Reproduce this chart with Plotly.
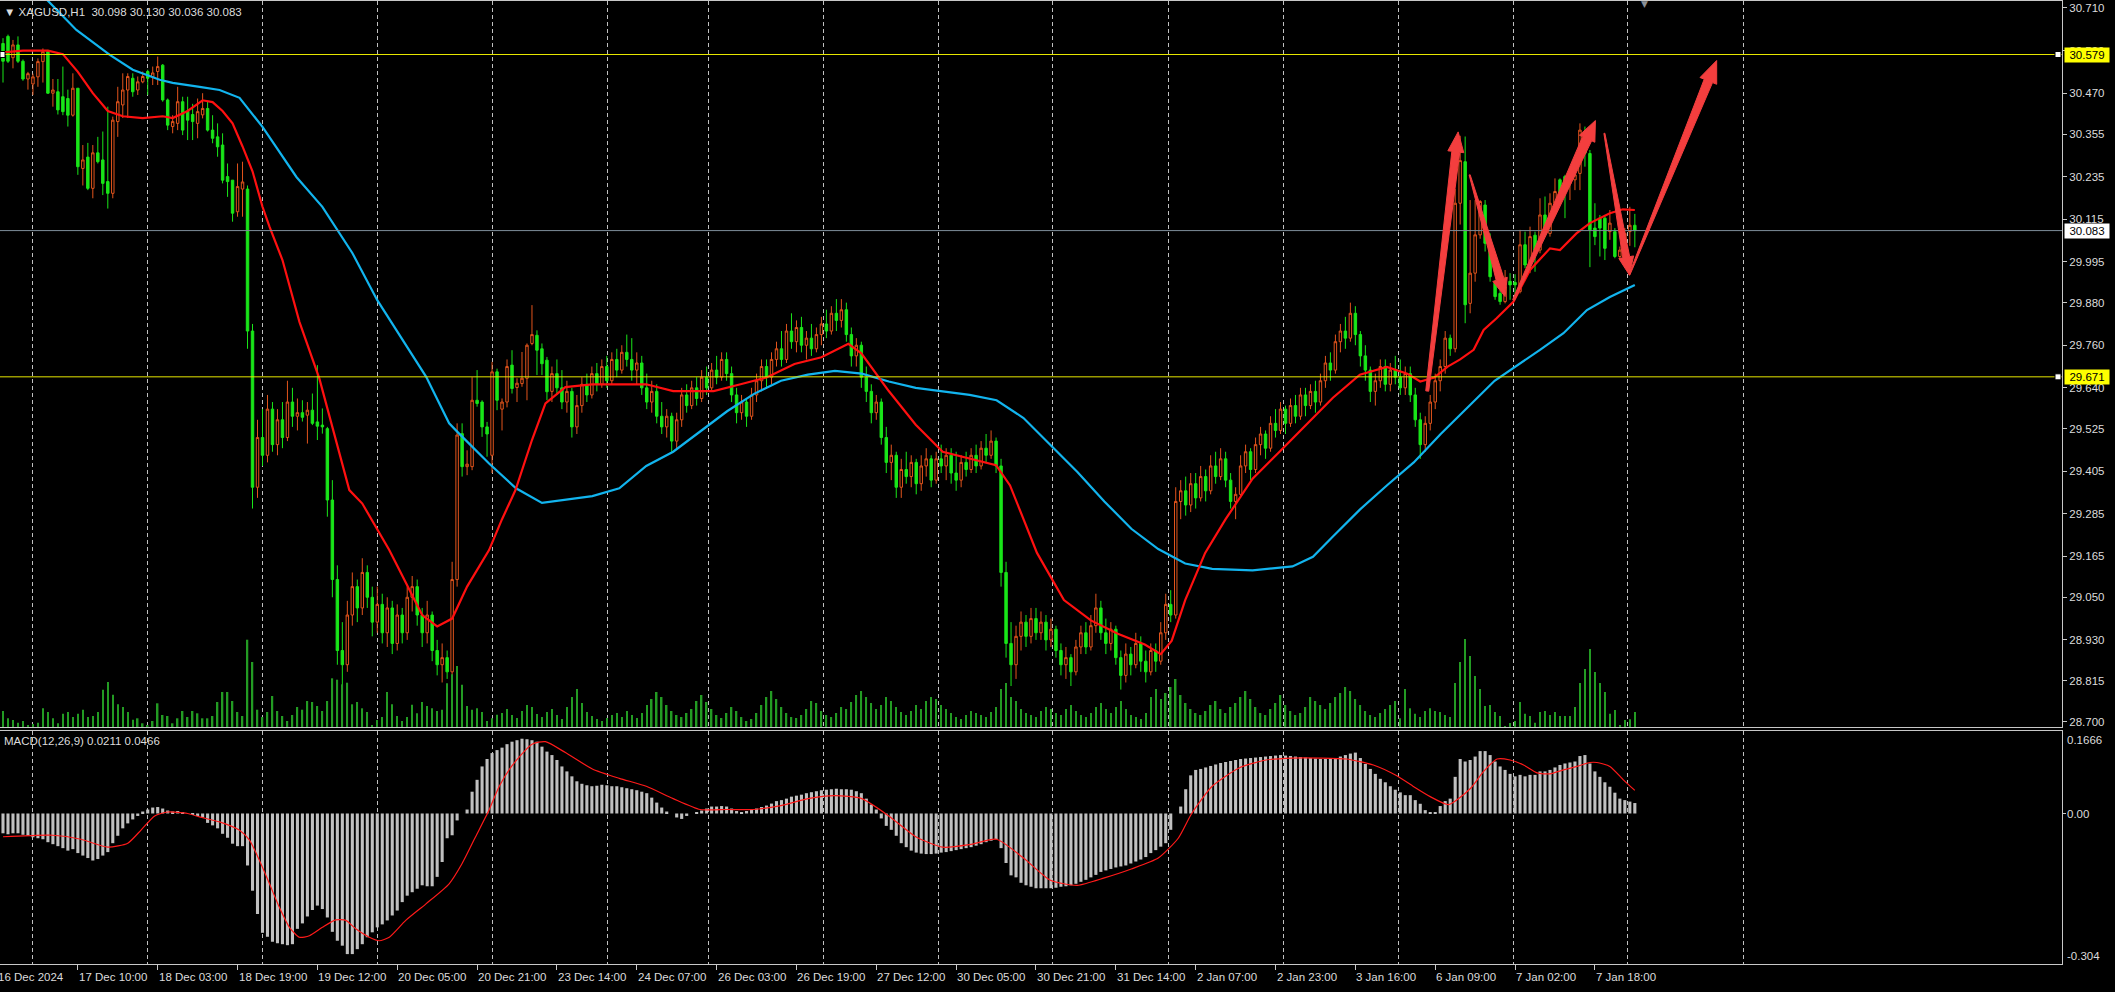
import math
import plotly.graph_objects as go

# ------------------------------------------------------------------ data
# XAGUSD H1 candles, bar index 0..327 (oldest -> newest)
opens = [
    30.61, 30.63, 30.57, 30.606, 30.56, 30.51, 30.496, 30.516, 30.559, 30.587,
    30.47, 30.474, 30.46, 30.455, 30.408, 30.484, 30.258, 30.29, 30.202, 30.302,
    30.282, 30.221, 30.188, 30.39, 30.437, 30.479, 30.512, 30.479, 30.502, 30.531,
    30.516, 30.531, 30.549, 30.451, 30.376, 30.385, 30.446, 30.42, 30.41, 30.385,
    30.409, 30.427, 30.366, 30.347, 30.324, 30.235, 30.225, 30.136, 30.20, 30.20,
    29.80, 29.36, 29.50, 29.45, 29.58, 29.48, 29.55, 29.50, 29.60, 29.56,
    29.57, 29.563, 29.577, 29.544, 29.535, 29.525, 29.324, 29.10, 28.90, 28.86,
    29.00, 29.08, 29.02, 29.12, 29.05, 28.98, 29.03, 28.95, 29.02, 28.92,
    29.00, 28.95, 29.05, 29.08, 29.00, 28.95, 29.00, 28.90, 28.86, 28.88,
    28.84, 29.10, 29.511, 29.418, 29.418, 29.605, 29.60, 29.53, 29.45, 29.685,
    29.58, 29.60, 29.704, 29.641, 29.652, 29.667, 29.765, 29.788, 29.75, 29.718,
    29.63, 29.68, 29.64, 29.60, 29.63, 29.53, 29.59, 29.65, 29.62, 29.68,
    29.65, 29.70, 29.66, 29.72, 29.69, 29.74, 29.72, 29.69, 29.71, 29.64,
    29.60, 29.63, 29.56, 29.53, 29.56, 29.49, 29.55, 29.62, 29.59, 29.64,
    29.61, 29.67, 29.64, 29.69, 29.67, 29.72, 29.68, 29.62, 29.57, 29.60,
    29.56, 29.62, 29.66, 29.70, 29.67, 29.72, 29.75, 29.72, 29.80, 29.77,
    29.81, 29.76, 29.78, 29.75, 29.79, 29.82, 29.80, 29.85, 29.83, 29.86,
    29.79, 29.73, 29.76, 29.67, 29.63, 29.57, 29.60, 29.50, 29.43, 29.45,
    29.36, 29.41, 29.39, 29.43, 29.37, 29.42, 29.44, 29.38, 29.44, 29.42,
    29.45, 29.40, 29.38, 29.43, 29.41, 29.45, 29.42, 29.47, 29.45, 29.49,
    29.42, 29.12, 28.92, 28.86, 28.94, 28.98, 28.94, 28.99, 28.95, 28.98,
    28.93, 28.96, 28.90, 28.86, 28.88, 28.84, 28.91, 28.95, 28.91, 28.97,
    29.02, 28.95, 28.92, 28.96, 28.88, 28.83, 28.89, 28.86, 28.92, 28.87,
    28.84, 28.90, 28.87, 28.95, 29.03, 29.00, 29.32, 29.35, 29.31, 29.37,
    29.33, 29.39, 29.35, 29.42, 29.39, 29.44, 29.38, 29.32, 29.34, 29.42,
    29.46, 29.41, 29.48, 29.51, 29.47, 29.54, 29.52, 29.58, 29.54, 29.59,
    29.56, 29.62, 29.59, 29.63, 29.60, 29.66, 29.71, 29.69, 29.77, 29.80,
    29.78, 29.85, 29.79, 29.73, 29.69, 29.63, 29.66, 29.70, 29.65, 29.69,
    29.67, 29.64, 29.68, 29.62, 29.55, 29.48, 29.54, 29.60, 29.66, 29.70,
    29.78, 29.75, 30.16, 30.277, 29.878, 29.963, 30.071, 30.155, 30.047, 29.935,
    29.906, 29.883, 29.94, 29.937, 29.911, 30.043, 29.986, 30.07, 30.028, 30.127,
    30.075, 30.16, 30.226, 30.235, 30.216, 30.226, 30.244, 30.362, 30.30, 30.09,
    30.118, 30.118, 30.08, 30.08, 30.01, 30.03, 30.08, 30.098,
]
highs = [
    30.625, 30.635, 30.62, 30.63, 30.565, 30.53, 30.525, 30.568, 30.596, 30.592,
    30.51, 30.51, 30.545, 30.48, 30.526, 30.484, 30.324, 30.33, 30.324, 30.347,
    30.362, 30.432, 30.404, 30.488, 30.526, 30.526, 30.526, 30.517, 30.531, 30.536,
    30.545, 30.573, 30.552, 30.455, 30.408, 30.488, 30.46, 30.46, 30.44, 30.455,
    30.47, 30.446, 30.408, 30.385, 30.357, 30.272, 30.225, 30.272, 30.277, 30.21,
    29.82, 29.55, 29.58, 29.62, 29.60, 29.58, 29.60, 29.66, 29.64, 29.61,
    29.605, 29.60, 29.624, 29.704, 29.582, 29.53, 29.38, 29.14, 28.98, 29.04,
    29.12, 29.10, 29.16, 29.14, 29.08, 29.08, 29.06, 29.05, 29.04, 29.03,
    29.02, 29.08, 29.11, 29.10, 29.02, 29.04, 29.01, 28.93, 28.92, 28.90,
    29.15, 29.54, 29.54, 29.464, 29.67, 29.69, 29.605, 29.544, 29.713, 29.694,
    29.61, 29.72, 29.746, 29.667, 29.741, 29.765, 29.873, 29.802, 29.765, 29.727,
    29.70, 29.72, 29.69, 29.66, 29.64, 29.62, 29.67, 29.68, 29.70, 29.71,
    29.72, 29.73, 29.74, 29.75, 29.76, 29.79, 29.78, 29.74, 29.73, 29.68,
    29.66, 29.65, 29.60, 29.58, 29.57, 29.57, 29.64, 29.65, 29.66, 29.67,
    29.69, 29.70, 29.71, 29.73, 29.74, 29.74, 29.70, 29.64, 29.62, 29.61,
    29.64, 29.68, 29.72, 29.72, 29.74, 29.77, 29.80, 29.82, 29.85, 29.83,
    29.84, 29.80, 29.82, 29.81, 29.84, 29.86, 29.87, 29.89, 29.89, 29.88,
    29.81, 29.78, 29.77, 29.70, 29.65, 29.62, 29.61, 29.53, 29.48, 29.46,
    29.44, 29.46, 29.45, 29.44, 29.45, 29.47, 29.45, 29.46, 29.48, 29.47,
    29.47, 29.46, 29.45, 29.46, 29.47, 29.48, 29.49, 29.51, 29.52, 29.50,
    29.44, 29.15, 28.98, 28.97, 29.01, 29.00, 29.02, 29.02, 29.01, 29.00,
    28.99, 28.97, 28.92, 28.91, 28.89, 28.93, 28.97, 28.98, 29.00, 29.06,
    29.04, 28.99, 28.98, 28.97, 28.90, 28.92, 28.91, 28.95, 28.94, 28.90,
    28.92, 28.92, 28.98, 29.06, 29.07, 29.36, 29.38, 29.39, 29.40, 29.40,
    29.42, 29.41, 29.45, 29.46, 29.47, 29.46, 29.40, 29.36, 29.45, 29.48,
    29.47, 29.50, 29.53, 29.52, 29.56, 29.58, 29.60, 29.59, 29.61, 29.62,
    29.64, 29.64, 29.65, 29.66, 29.68, 29.73, 29.74, 29.79, 29.82, 29.84,
    29.88, 29.87, 29.80, 29.76, 29.70, 29.68, 29.72, 29.72, 29.71, 29.73,
    29.72, 29.70, 29.70, 29.64, 29.57, 29.56, 29.62, 29.68, 29.72, 29.80,
    29.79, 30.20, 30.35, 30.348, 30.169, 30.169, 30.169, 30.169, 30.075, 29.944,
    29.916, 29.972, 29.963, 29.96, 30.085, 30.08, 30.094, 30.08, 30.174, 30.179,
    30.188, 30.23, 30.23, 30.24, 30.249, 30.245, 30.385, 30.376, 30.31, 30.16,
    30.127, 30.127, 30.141, 30.09, 30.038, 30.09, 30.15, 30.130,
]
lows = [
    30.50, 30.555, 30.54, 30.555, 30.505, 30.48, 30.465, 30.488, 30.50, 30.468,
    30.432, 30.41, 30.408, 30.376, 30.404, 30.24, 30.21, 30.197, 30.174, 30.272,
    30.183, 30.145, 30.174, 30.347, 30.40, 30.40, 30.46, 30.465, 30.498, 30.465,
    30.493, 30.493, 30.446, 30.366, 30.357, 30.366, 30.352, 30.338, 30.338, 30.343,
    30.399, 30.362, 30.329, 30.291, 30.216, 30.178, 30.108, 30.122, 30.122, 29.75,
    29.30, 29.33, 29.42, 29.43, 29.46, 29.45, 29.47, 29.49, 29.53, 29.52,
    29.545, 29.483, 29.535, 29.493, 29.511, 29.277, 29.05, 28.86, 28.80, 28.84,
    28.97, 28.98, 29.00, 29.02, 28.94, 28.95, 28.92, 28.91, 28.89, 28.90,
    28.92, 28.93, 29.01, 28.97, 28.91, 28.92, 28.87, 28.83, 28.81, 28.82,
    28.83, 29.08, 29.39, 29.394, 29.408, 29.587, 29.502, 29.446, 29.40, 29.577,
    29.52, 29.585, 29.624, 29.60, 29.643, 29.605, 29.76, 29.676, 29.676, 29.605,
    29.60, 29.62, 29.58, 29.57, 29.50, 29.51, 29.57, 29.60, 29.61, 29.63,
    29.64, 29.64, 29.65, 29.67, 29.68, 29.70, 29.66, 29.65, 29.62, 29.58,
    29.57, 29.54, 29.51, 29.50, 29.46, 29.47, 29.53, 29.57, 29.58, 29.59,
    29.60, 29.62, 29.63, 29.65, 29.66, 29.66, 29.60, 29.54, 29.55, 29.53,
    29.55, 29.60, 29.63, 29.64, 29.65, 29.70, 29.70, 29.71, 29.75, 29.74,
    29.74, 29.72, 29.73, 29.74, 29.76, 29.78, 29.79, 29.80, 29.81, 29.77,
    29.70, 29.70, 29.64, 29.60, 29.54, 29.55, 29.48, 29.40, 29.38, 29.33,
    29.33, 29.37, 29.36, 29.34, 29.35, 29.39, 29.36, 29.37, 29.40, 29.38,
    29.37, 29.35, 29.36, 29.39, 29.40, 29.40, 29.41, 29.43, 29.44, 29.40,
    29.08, 28.88, 28.80, 28.82, 28.90, 28.91, 28.92, 28.93, 28.93, 28.90,
    28.91, 28.88, 28.83, 28.82, 28.80, 28.83, 28.89, 28.89, 28.90, 28.95,
    28.93, 28.89, 28.90, 28.86, 28.79, 28.81, 28.83, 28.85, 28.84, 28.81,
    28.83, 28.84, 28.86, 28.93, 28.98, 28.99, 29.27, 29.28, 29.29, 29.30,
    29.32, 29.32, 29.34, 29.37, 29.38, 29.36, 29.30, 29.27, 29.33, 29.40,
    29.38, 29.40, 29.45, 29.44, 29.46, 29.50, 29.51, 29.51, 29.53, 29.54,
    29.55, 29.56, 29.58, 29.57, 29.59, 29.64, 29.66, 29.68, 29.74, 29.75,
    29.77, 29.76, 29.70, 29.66, 29.60, 29.59, 29.64, 29.63, 29.63, 29.65,
    29.62, 29.62, 29.60, 29.53, 29.44, 29.46, 29.52, 29.58, 29.63, 29.68,
    29.73, 29.74, 30.10, 29.822, 29.85, 29.939, 30.06, 30.024, 29.939, 29.888,
    29.874, 29.878, 29.888, 29.89, 29.906, 29.977, 29.963, 29.967, 30.019, 30.066,
    30.066, 30.132, 30.179, 30.118, 30.169, 30.197, 30.197, 30.263, 29.98, 30.042,
    30.01, 30.0, 30.057, 30.005, 30.0, 29.99, 30.04, 30.036,
]
closes = [
    30.56, 30.56, 30.606, 30.56, 30.51, 30.525, 30.516, 30.559, 30.587, 30.47,
    30.479, 30.423, 30.418, 30.408, 30.484, 30.263, 30.282, 30.202, 30.302, 30.277,
    30.216, 30.188, 30.394, 30.446, 30.479, 30.517, 30.474, 30.502, 30.517, 30.512,
    30.527, 30.545, 30.451, 30.38, 30.39, 30.446, 30.366, 30.394, 30.39, 30.418,
    30.427, 30.366, 30.343, 30.319, 30.225, 30.221, 30.132, 30.207, 30.22, 29.80,
    29.36, 29.50, 29.45, 29.58, 29.48, 29.55, 29.50, 29.60, 29.56, 29.57,
    29.557, 29.577, 29.54, 29.532, 29.53, 29.324, 29.10, 28.90, 28.86, 29.00,
    29.08, 29.02, 29.12, 29.05, 28.98, 29.03, 28.95, 29.02, 28.92, 29.00,
    28.95, 29.05, 29.08, 29.00, 28.95, 29.00, 28.90, 28.86, 28.88, 28.84,
    29.10, 29.507, 29.418, 29.425, 29.605, 29.596, 29.53, 29.51, 29.685, 29.605,
    29.60, 29.70, 29.638, 29.653, 29.667, 29.76, 29.79, 29.746, 29.708, 29.629,
    29.68, 29.64, 29.60, 29.63, 29.53, 29.59, 29.65, 29.62, 29.68, 29.65,
    29.70, 29.66, 29.72, 29.69, 29.74, 29.72, 29.69, 29.71, 29.64, 29.60,
    29.63, 29.56, 29.53, 29.56, 29.49, 29.55, 29.62, 29.59, 29.64, 29.61,
    29.67, 29.64, 29.69, 29.67, 29.72, 29.68, 29.62, 29.57, 29.60, 29.56,
    29.62, 29.66, 29.70, 29.67, 29.72, 29.75, 29.72, 29.80, 29.77, 29.81,
    29.76, 29.78, 29.75, 29.79, 29.82, 29.80, 29.85, 29.83, 29.86, 29.79,
    29.73, 29.76, 29.67, 29.63, 29.57, 29.60, 29.50, 29.43, 29.45, 29.36,
    29.41, 29.39, 29.43, 29.37, 29.42, 29.44, 29.38, 29.44, 29.42, 29.45,
    29.40, 29.38, 29.43, 29.41, 29.45, 29.42, 29.47, 29.45, 29.49, 29.42,
    29.12, 28.92, 28.86, 28.94, 28.98, 28.94, 28.99, 28.95, 28.98, 28.93,
    28.96, 28.90, 28.86, 28.88, 28.84, 28.91, 28.95, 28.91, 28.97, 29.02,
    28.95, 28.92, 28.96, 28.88, 28.83, 28.89, 28.86, 28.92, 28.87, 28.84,
    28.90, 28.87, 28.95, 29.03, 29.00, 29.32, 29.35, 29.31, 29.37, 29.33,
    29.39, 29.35, 29.42, 29.39, 29.44, 29.38, 29.32, 29.34, 29.42, 29.46,
    29.41, 29.48, 29.51, 29.47, 29.54, 29.52, 29.58, 29.54, 29.59, 29.56,
    29.62, 29.59, 29.63, 29.60, 29.66, 29.71, 29.69, 29.77, 29.80, 29.78,
    29.85, 29.79, 29.73, 29.69, 29.63, 29.66, 29.70, 29.65, 29.69, 29.67,
    29.64, 29.68, 29.62, 29.55, 29.48, 29.54, 29.60, 29.66, 29.70, 29.78,
    29.75, 30.16, 30.28, 29.874, 29.963, 30.071, 30.165, 30.047, 29.953, 29.897,
    29.883, 29.925, 29.93, 29.93, 30.043, 29.986, 30.066, 30.028, 30.127, 30.075,
    30.16, 30.193, 30.188, 30.22, 30.235, 30.24, 30.366, 30.301, 30.085, 30.066,
    30.09, 30.033, 30.104, 30.01, 30.028, 30.075, 30.098, 30.083,
]
# tick volume per bar (relative units)
volumes = [
    16, 8.7, 7, 4.3, 6, 2, 3, 4.3, 18.7, 15,
    8.7, 3.7, 13.3, 15, 10, 13.3, 17.3, 10, 11, 15,
    37.3, 45, 32.3, 22.7, 20, 15, 7.3, 8.7, 3.7, 2,
    6, 23.7, 12, 11, 3.7, 8.7, 16, 10, 16, 13.7,
    8.7, 8.7, 11, 25, 35, 35, 26, 15, 11, 87.3,
    65, 17.3, 10, 15, 31, 16, 11, 6, 12, 20,
    17.3, 26, 25, 21, 16, 26, 48.7, 47.3, 42.7, 44.3,
    22.7, 25, 18.7, 15, 2, 7, 10, 35, 22.7, 11,
    6, 10, 22.3, 13.7, 25, 21, 18.7, 16, 17.3, 43.7,
    52.7, 61, 42.3, 21, 17.3, 18.7, 15, 6, 8.7, 12.3,
    14, 18, 12, 9, 16, 22, 20, 13, 10, 15,
    18, 12, 8, 20, 30, 38, 24, 15, 11, 8,
    6, 9, 12, 14, 10, 16, 12, 9, 14, 22,
    28, 35, 30, 22, 16, 12, 10, 14, 18, 26,
    32, 25, 18, 12, 9, 14, 20, 16, 10, 6,
    8, 14, 22, 30, 36, 28, 20, 14, 10, 9,
    12, 18, 26, 24, 16, 12, 10, 14, 20, 18,
    25, 32, 36, 30, 24, 18, 22, 30, 26, 20,
    15, 12, 16, 22, 18, 26, 30, 28, 22, 18,
    14, 10, 8, 12, 16, 14, 12, 10, 15, 20,
    38, 44, 30, 26, 18, 14, 12, 10, 16, 20,
    18, 14, 12, 18, 22, 16, 12, 10, 14, 20,
    24, 18, 14, 20, 26, 18, 12, 10, 8, 14,
    30, 38, 28, 34, 40, 48, 32, 24, 18, 14,
    12, 16, 22, 26, 18, 14, 20, 24, 30, 36,
    28, 20, 14, 12, 18, 24, 32, 22, 16, 12,
    14, 20, 30, 26, 22, 18, 24, 30, 34, 40,
    36, 28, 22, 16, 12, 10, 14, 18, 22, 26,
    8.7, 38, 18.7, 13.3, 10, 16, 18.7, 16, 15, 12,
    10, 44, 65, 88, 71, 51, 38, 21, 22, 15,
    11, 1, 4, 6, 25, 13.3, 11, 4.3, 15, 16,
    12, 15, 11, 11, 11, 20, 44, 58, 78, 55,
    44, 35, 13.3, 17, 2, 7, 7.7, 15,
]
# MACD(12,26,9) main histogram per bar
macd_hist = [
    -0.040, -0.042, -0.040, -0.040, -0.043, -0.045, -0.048, -0.050, -0.052, -0.058,
    -0.062, -0.066, -0.070, -0.075, -0.072, -0.080, -0.085, -0.090, -0.095, -0.092,
    -0.085, -0.078, -0.060, -0.045, -0.030, -0.020, -0.012, -0.005, 0.004, 0.008,
    0.012, 0.013, 0.010, 0.006, 0.004, 0.005, 0.003, 0.000, -0.003, -0.005,
    -0.008, -0.019, -0.024, -0.030, -0.041, -0.049, -0.061, -0.066, -0.066, -0.105,
    -0.156, -0.203, -0.241, -0.249, -0.259, -0.262, -0.264, -0.266, -0.264, -0.233,
    -0.222, -0.208, -0.195, -0.186, -0.193, -0.210, -0.239, -0.257, -0.267, -0.284,
    -0.284, -0.274, -0.264, -0.250, -0.240, -0.230, -0.224, -0.216, -0.206, -0.196,
    -0.179, -0.166, -0.159, -0.152, -0.145, -0.147, -0.147, -0.128, -0.098, -0.050,
    -0.044, -0.014, 0.000, 0.008, 0.044, 0.068, 0.095, 0.110, 0.122, 0.128,
    0.133, 0.140, 0.145, 0.148, 0.151, 0.150, 0.148, 0.145, 0.135, 0.125,
    0.118, 0.108, 0.095, 0.085, 0.075, 0.065, 0.060, 0.057, 0.055, 0.056,
    0.058, 0.057, 0.055, 0.055, 0.053, 0.051, 0.049, 0.047, 0.044, 0.041,
    0.032, 0.022, 0.012, 0.004, 0.000, -0.008, -0.011, -0.005, 0.000, 0.003,
    0.006, 0.010, 0.014, 0.014, 0.015, 0.014, 0.010, 0.005, 0.003, 0.005,
    0.008, 0.010, 0.013, 0.016, 0.020, 0.025, 0.027, 0.030, 0.034, 0.036,
    0.038, 0.041, 0.043, 0.045, 0.047, 0.048, 0.049, 0.050, 0.049, 0.049,
    0.048, 0.045, 0.041, 0.030, 0.018, 0.008, -0.010, -0.025, -0.033, -0.045,
    -0.060, -0.068, -0.075, -0.079, -0.081, -0.082, -0.082, -0.081, -0.079, -0.078,
    -0.076, -0.074, -0.072, -0.070, -0.068, -0.065, -0.062, -0.058, -0.055, -0.052,
    -0.070, -0.100, -0.125, -0.129, -0.140, -0.145, -0.148, -0.151, -0.151, -0.151,
    -0.151, -0.150, -0.148, -0.147, -0.145, -0.142, -0.138, -0.134, -0.129, -0.124,
    -0.118, -0.115, -0.112, -0.109, -0.107, -0.105, -0.101, -0.097, -0.093, -0.088,
    -0.080, -0.074, -0.067, -0.060, -0.033, 0.000, 0.014, 0.049, 0.077, 0.088,
    0.090, 0.093, 0.096, 0.099, 0.102, 0.104, 0.106, 0.108, 0.110, 0.111,
    0.112, 0.113, 0.114, 0.115, 0.116, 0.117, 0.118, 0.117, 0.116, 0.115,
    0.114, 0.113, 0.112, 0.111, 0.110, 0.110, 0.110, 0.112, 0.115, 0.118,
    0.121, 0.123, 0.112, 0.100, 0.090, 0.080, 0.070, 0.063, 0.055, 0.048,
    0.0426, 0.037, 0.037, 0.027, 0.0196, 0.0068, 0.002, 0.002, 0.015, 0.025,
    0.030, 0.074, 0.110, 0.105, 0.108, 0.115, 0.126, 0.126, 0.118, 0.105,
    0.095, 0.088, 0.080, 0.075, 0.078, 0.075, 0.078, 0.078, 0.085, 0.085,
    0.088, 0.093, 0.098, 0.101, 0.103, 0.105, 0.116, 0.118, 0.101, 0.085,
    0.074, 0.063, 0.054, 0.042, 0.030, 0.027, 0.024, 0.0211,
]
# MACD signal line (read at the bar positions below)
signal_bar = [0, 10, 15.6, 21, 25, 27.7, 30.4, 33, 37, 39.4, 43.4, 47.4, 49.4, 51.4,
              53.4, 55.4, 57.4, 59.4, 61.4, 64, 66.7, 68.7, 70.7, 73.4, 75.4, 77.4,
              80.7, 84.7, 89.4, 92, 94.7, 97.4, 99.4, 101.9, 106, 108.7, 112.7, 118.1,
              123.5, 128.9, 134.3, 139.7, 145.1, 150.5, 155.9, 161.3, 166.7, 172.1,
              177.5, 182.9, 188.3, 193.7, 199.1, 204.5, 209.9, 215.3, 220.7, 226.1,
              231.5, 235.5, 238.2, 242.3, 247.7, 253.1, 258.4, 263.8, 269.2, 274.6,
              279.4, 282.7, 286, 289.7, 294, 296.7, 299.4, 302, 304.7, 307.4, 310,
              312.7, 315.4, 318, 319.4, 322, 324.7, 327]
signal_val = [-0.047, -0.044, -0.052, -0.068, -0.060, -0.033, -0.005, 0.003, 0.000, -0.007,
              -0.017, -0.034, -0.054, -0.095, -0.142, -0.190, -0.230, -0.250, -0.247, -0.230,
              -0.215, -0.216, -0.233, -0.250, -0.257, -0.250, -0.216, -0.183, -0.142, -0.101,
              -0.047, 0.007, 0.054, 0.095, 0.140, 0.145, 0.123, 0.090, 0.071, 0.055,
              0.030, 0.008, 0.008, 0.008, 0.016, 0.030, 0.036, 0.030, -0.005, -0.047,
              -0.068, -0.063, -0.052, -0.090, -0.135, -0.145, -0.130, -0.112, -0.090, -0.050,
              0.000, 0.055, 0.092, 0.108, 0.112, 0.112, 0.110, 0.098, 0.0757, 0.054,
              0.034, 0.018, 0.050, 0.085, 0.110, 0.108, 0.098, 0.082, 0.080, 0.088,
              0.095, 0.103, 0.103, 0.095, 0.068, 0.0466]
# fast moving average (red)
ma_red_bar = [0, 4, 9, 12, 15, 18, 21, 24, 28, 32, 34, 37, 40, 42, 44, 46, 48, 50, 52, 53.4,
              56, 59.4, 63.4, 66, 69.4, 72, 74.7, 77.4, 80.4, 84, 87, 90, 93, 97.4, 100,
              102.7, 106, 108.7, 112.7, 118, 123.5, 128.9, 134.3, 142.4, 147.8, 153, 158.6,
              164, 169.4, 172, 177.5, 182.9, 188.3, 193.7, 199, 201.8, 207.2, 212.6, 218,
              223.4, 228.8, 232, 234.2, 236.9, 240.9, 245, 250.4, 255.8, 261.2, 266.5,
              271.9, 277.3, 281.4, 284, 286.8, 289.5, 292, 294.7, 296.7, 299.3, 302.7,
              306, 310, 312, 315.3, 318, 322, 324.6, 327]
ma_red_val = [30.585, 30.59, 30.59, 30.58, 30.53, 30.47, 30.42, 30.405, 30.40, 30.405,
              30.40, 30.42, 30.45, 30.445, 30.42, 30.385, 30.32, 30.25, 30.15, 30.094,
              30.00, 29.826, 29.666, 29.53, 29.352, 29.314, 29.248, 29.183, 29.10, 29.00,
              28.968, 28.99, 29.08, 29.183, 29.27, 29.352, 29.493, 29.596, 29.642, 29.650,
              29.650, 29.650, 29.631, 29.631, 29.650, 29.669, 29.707, 29.726, 29.764, 29.737,
              29.631, 29.536, 29.46, 29.441, 29.422, 29.365, 29.175, 29.042, 28.985, 28.947,
              28.917, 28.89, 28.928, 29.042, 29.175, 29.27, 29.384, 29.46, 29.536, 29.612,
              29.677, 29.699, 29.68, 29.658, 29.669, 29.70, 29.72, 29.747, 29.803, 29.836,
              29.883, 29.972, 30.033, 30.028, 30.075, 30.104, 30.132, 30.143, 30.141]
# slow moving average (blue)
ma_blue_bar = [0, 8.8, 14.7, 21.4, 26, 31.4, 34, 39.4, 43.4, 47.4, 52, 58.8, 64, 70, 75,
               84.8, 89.4, 91.4, 97.4, 102.8, 108, 118.1, 123.5, 128.9, 134.3, 139.7,
               145.1, 150.5, 155.9, 161.3, 166.7, 172.1, 177.5, 182.9, 188.3, 193.7, 199.1,
               204.5, 209.9, 215.3, 220.7, 226.1, 231.5, 236.9, 242.3, 250.4, 258.4, 262.5,
               266.5, 271.9, 277.3, 282.7, 288.1, 293.5, 298.9, 308, 312.7, 317.4, 322, 327]
ma_blue_val = [30.86, 30.733, 30.648, 30.578, 30.536, 30.508, 30.499, 30.488, 30.479, 30.457,
               30.375, 30.234, 30.15, 30.02, 29.887, 29.671, 29.54, 29.511, 29.427, 29.357,
               29.316, 29.335, 29.357, 29.42, 29.46, 29.517, 29.574, 29.623, 29.66, 29.677,
               29.688, 29.68, 29.658, 29.64, 29.631, 29.62, 29.605, 29.555, 29.479, 29.403,
               29.32, 29.243, 29.186, 29.145, 29.13, 29.126, 29.137, 29.164, 29.221, 29.297,
               29.365, 29.43, 29.51, 29.586, 29.66, 29.747, 29.794, 29.859, 29.896, 29.93]

price_ticks = [30.710, 30.590, 30.470, 30.355, 30.235, 30.115, 29.995, 29.880, 29.760,
               29.640, 29.525, 29.405, 29.285, 29.165, 29.050, 28.930, 28.815, 28.700]
level_lines = [30.579, 29.671]          # yellow horizontal lines
bid_price = 30.083
first_time_label = "16 Dec 2024"        # partly cut at the left edge
time_labels = ["17 Dec 10:00", "18 Dec 03:00", "18 Dec 19:00", "19 Dec 12:00",
               "20 Dec 05:00", "20 Dec 21:00", "23 Dec 14:00", "24 Dec 07:00", "26 Dec 03:00",
               "26 Dec 19:00", "27 Dec 12:00", "30 Dec 05:00", "30 Dec 21:00", "31 Dec 14:00",
               "2 Jan 07:00", "2 Jan 23:00", "3 Jan 16:00", "6 Jan 09:00", "7 Jan 02:00",
               "7 Jan 18:00"]
time_label_bar = [15, 31, 47, 63, 79, 95, 111, 127, 143, 159, 175, 191, 207, 223, 239,
                  255, 271, 287, 303, 319]
day_grid_bar = [5.9, 29, 52, 75.05, 98.1, 121.1, 141.4, 164.5, 187.5, 210.4, 233.5, 256.5,
                279.6, 302.6, 325.6, 348.7]
# hand-drawn arrows: tail (bar, price) -> tip (bar, price)
arrow_tail_bar = [285.4, 293.9, 302.7, 320.9, 325.9]
arrow_tail_price = [29.631, 30.240, 29.887, 30.357, 29.958]
arrow_tip_bar = [291.6, 301.0, 319.1, 325.9, 343.4]
arrow_tip_price = [30.361, 29.897, 30.393, 29.958, 30.562]

assert len(opens) == len(highs) == len(lows) == len(closes) == len(volumes) == len(macd_hist), \
    (len(opens), len(highs), len(lows), len(closes), len(volumes), len(macd_hist))
assert len(signal_bar) == len(signal_val)
assert len(ma_red_bar) == len(ma_red_val)
assert len(ma_blue_bar) == len(ma_blue_val)
bars = list(range(len(closes)))

# ------------------------------------------------------------------ layout constants
W, H = 2115, 992
M_L, M_R, M_T, M_B = 0, 53, 1, 28
PLOT_W = W - M_L - M_R
PLOT_H = H - M_T - M_B
MAIN_BOTTOM_PX = 727          # px from top of figure
MACD_TOP_PX = 731
dom_main = [1 - (MAIN_BOTTOM_PX - M_T) / PLOT_H, 1]
dom_macd = [0, 1 - (MACD_TOP_PX - M_T) / PLOT_H]
X_RANGE = [-0.601, 412.6]
P_RANGE = [28.6846, 30.7297]
MACD_RANGE = [-0.304, 0.1666]
MAIN_H = MAIN_BOTTOM_PX - M_T
PX_PER_BAR = PLOT_W / (X_RANGE[1] - X_RANGE[0])
PX_PER_PRICE = MAIN_H / (P_RANGE[1] - P_RANGE[0])

BG = "#000000"
TXT = "#dcdcdc"
AXIS = "#c8c8c8"
GRID = "#c0c0c0"
UP = "#e2541c"
DOWN = "#19e619"
FONT = "Liberation Sans, Arial, sans-serif"
FS = 11.5

fig = go.Figure()

fig.add_trace(go.Bar(x=bars, y=volumes, xaxis="x", yaxis="y3", width=0.3,
                     marker=dict(color="#239b23", line=dict(width=0)), hoverinfo="skip"))
fig.add_trace(go.Candlestick(
    x=bars, open=opens, high=highs, low=lows, close=closes, xaxis="x", yaxis="y",
    increasing=dict(line=dict(color=UP, width=1), fillcolor=BG),
    decreasing=dict(line=dict(color=DOWN, width=1), fillcolor=DOWN),
    whiskerwidth=0, hoverinfo="skip"))
fig.add_trace(go.Scatter(x=ma_blue_bar, y=ma_blue_val, mode="lines", xaxis="x", yaxis="y",
                         line=dict(color="#12b4ee", width=2.2), hoverinfo="skip"))
fig.add_trace(go.Scatter(x=ma_red_bar, y=ma_red_val, mode="lines", xaxis="x", yaxis="y",
                         line=dict(color="#ff1010", width=2.2), hoverinfo="skip"))
fig.add_trace(go.Bar(x=bars, y=macd_hist, xaxis="x2", yaxis="y2", width=0.62,
                     marker=dict(color="#c0c0c0", line=dict(width=0)), hoverinfo="skip"))
fig.add_trace(go.Scatter(x=signal_bar, y=signal_val, mode="lines", xaxis="x2", yaxis="y2",
                         line=dict(color="#ff1a1a", width=1.2, shape="spline", smoothing=0.6),
                         hoverinfo="skip"))

shapes = []
for lv in level_lines:
    shapes.append(dict(type="line", xref="paper", x0=0, x1=1, yref="y", y0=lv, y1=lv,
                       line=dict(color="#e6e600", width=1), layer="above"))
    shapes.append(dict(type="rect", xref="paper", xsizemode="pixel", xanchor=1, x0=-7, x1=-1,
                       yref="y", ysizemode="pixel", yanchor=lv, y0=-3, y1=3,
                       fillcolor="#ffffff", line=dict(color="#000000", width=1), layer="above"))
shapes.append(dict(type="rect", xref="paper", xsizemode="pixel", xanchor=0, x0=0, x1=5,
                   yref="y", ysizemode="pixel", yanchor=level_lines[0], y0=-3, y1=3,
                   fillcolor="#ffffff", line=dict(color="#000000", width=1), layer="above"))
shapes.append(dict(type="line", xref="paper", x0=0, x1=1, yref="y", y0=bid_price, y1=bid_price,
                   line=dict(color="#7d8c9a", width=1), layer="above"))

# arrows as tapered polygons (geometry in screen pixels, mapped back to data units)
tail_w = [3, 1, 2, 1, 1]
shaft_w = [8, 8, 10, 7, 9]
head_w = [16, 15, 17, 15, 18]
head_len = [20, 18, 20, 18, 22]
for k in range(len(arrow_tail_bar)):
    X0, Y0 = arrow_tail_bar[k] * PX_PER_BAR, -arrow_tail_price[k] * PX_PER_PRICE
    X1, Y1 = arrow_tip_bar[k] * PX_PER_BAR, -arrow_tip_price[k] * PX_PER_PRICE
    L = math.hypot(X1 - X0, Y1 - Y0)
    ux, uy = (X1 - X0) / L, (Y1 - Y0) / L
    nx, ny = -uy, ux
    bx, by = X1 - ux * head_len[k], Y1 - uy * head_len[k]
    pts = [(X0 + nx * tail_w[k] / 2, Y0 + ny * tail_w[k] / 2),
           (bx + nx * shaft_w[k] / 2, by + ny * shaft_w[k] / 2),
           (bx + nx * head_w[k] / 2, by + ny * head_w[k] / 2),
           (X1, Y1),
           (bx - nx * head_w[k] / 2, by - ny * head_w[k] / 2),
           (bx - nx * shaft_w[k] / 2, by - ny * shaft_w[k] / 2),
           (X0 - nx * tail_w[k] / 2, Y0 - ny * tail_w[k] / 2)]
    path = "M " + " L ".join(f"{px / PX_PER_BAR:.4f},{-py / PX_PER_PRICE:.5f}" for px, py in pts) + " Z"
    shapes.append(dict(type="path", xref="x", yref="y", path=path, fillcolor="#f33e3e",
                       line=dict(color="#f33e3e", width=1), layer="above"))

annotations = []
annotations.append(dict(xref="paper", yref="paper", x=0, y=1, xanchor="left", yanchor="top",
                        xshift=2, yshift=-3, showarrow=False,
                        text="\u25bc XAGUSD,H1  30.098 30.130 30.036 30.083",
                        font=dict(family=FONT, size=FS, color=TXT)))
annotations.append(dict(xref="paper", yref="y2", x=0, y=MACD_RANGE[1], xanchor="left",
                        yanchor="top", xshift=2, yshift=-2, showarrow=False,
                        text="MACD(12,26,9) 0.0211 0.0466",
                        font=dict(family=FONT, size=FS, color=TXT)))
for txt, yv, anc, ys in [("0.1666", MACD_RANGE[1], "top", -1), ("0.00", 0, "middle", -1),
                         ("-0.304", MACD_RANGE[0], "bottom", 0)]:
    annotations.append(dict(xref="paper", yref="y2", x=1, y=yv, xanchor="left", yanchor=anc,
                            xshift=3, yshift=ys, showarrow=False, text=txt,
                            font=dict(family=FONT, size=FS, color=TXT)))
for lv in level_lines:
    annotations.append(dict(xref="paper", yref="y", x=1, y=lv, xanchor="left", yanchor="middle",
                            xshift=2, showarrow=False, text=f"{lv:.3f}", bgcolor="#ffff00",
                            borderpad=1, width=42, font=dict(family=FONT, size=FS, color="#000000")))
annotations.append(dict(xref="paper", yref="y", x=1, y=bid_price, xanchor="left", yanchor="middle",
                        xshift=2, showarrow=False, text=f"{bid_price:.3f}", bgcolor="#ffffff",
                        borderpad=1, width=42, font=dict(family=FONT, size=FS, color="#000000")))
annotations.append(dict(xref="paper", yref="paper", x=0, y=0, xanchor="left", yanchor="top",
                        xshift=-4, yshift=-5, showarrow=False, text=first_time_label,
                        font=dict(family=FONT, size=FS, color=TXT)))
for txt, pos in zip(time_labels, time_label_bar):
    annotations.append(dict(xref="x2", yref="paper", x=pos, y=0, xanchor="left", yanchor="top",
                            xshift=-1, yshift=-5, showarrow=False, text=txt,
                            font=dict(family=FONT, size=FS, color=TXT)))
annotations.append(dict(xref="x", yref="paper", x=len(closes) + 1, y=1, xanchor="center",
                        yanchor="top", yshift=4, showarrow=False, text="\u25bc",
                        font=dict(family="DejaVu Sans", size=9, color="#8a8f96")))

xcommon = dict(range=X_RANGE, showticklabels=False, zeroline=False,
               tickmode="array", tickvals=day_grid_bar, ticks="",
               showgrid=True, gridcolor=GRID, gridwidth=1, griddash="4px,3px",
               showline=True, linecolor=AXIS, linewidth=1, mirror=True)

fig.update_layout(
    width=W, height=H, paper_bgcolor=BG, plot_bgcolor=BG,
    margin=dict(l=M_L, r=M_R, t=M_T, b=M_B),
    showlegend=False, hovermode=False, barmode="overlay",
    xaxis=dict(**xcommon, anchor="y", rangeslider=dict(visible=False)),
    xaxis2=dict(**xcommon, anchor="y2", matches="x",
                minor=dict(tickmode="array", tickvals=time_label_bar, ticks="outside",
                           ticklen=5, tickcolor=AXIS, showgrid=False)),
    yaxis=dict(domain=dom_main, range=P_RANGE, side="right", tickmode="array",
               tickvals=price_ticks, ticktext=[f"{v:.3f}" for v in price_ticks],
               ticks="outside", ticklen=4, tickcolor=AXIS,
               tickfont=dict(family=FONT, size=FS, color=TXT),
               showline=True, linecolor=AXIS, showgrid=False, zeroline=False),
    yaxis3=dict(overlaying="y", range=[0, MAIN_H], visible=False),
    yaxis2=dict(domain=dom_macd, range=MACD_RANGE, side="right", tickmode="array",
                tickvals=[0], ticks="outside", ticklen=3, tickcolor=AXIS, showticklabels=False,
                showline=True, linecolor=AXIS, showgrid=False, zeroline=False),
    shapes=shapes, annotations=annotations,
)

fig.write_html("out.html", config={"displayModeBar": False},
               post_script="document.body.style.margin='0';document.body.style.overflow='hidden';")
